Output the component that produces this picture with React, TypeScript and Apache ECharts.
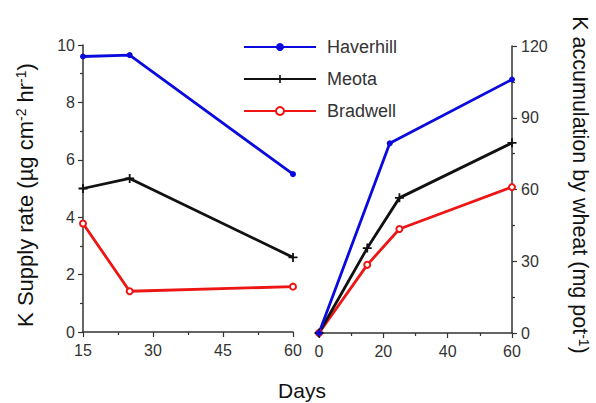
import React, { useEffect, useRef } from "react";
import * as echarts from "echarts";

// Left panel: K supply rate (µg cm-2 hr-1) vs days
const daysSupply = [15, 25, 60];
const supplyHaverhill = [9.6, 9.65, 5.5];
const supplyMeota = [5.0, 5.35, 2.6];
const supplyBradwell = [3.78, 1.42, 1.58];

// Right panel: K accumulation by wheat (mg pot-1) vs days
const daysAccHaverhill = [0, 22, 60];
const accHaverhill = [0, 79.3, 106];
const daysAcc = [0, 15, 25, 60];
const accMeota = [0, 35.5, 56.5, 79.5];
const accBradwell = [0, 28.5, 43.5, 61];

const leftXTicks = { min: 15, max: 60, interval: 15 };
const leftYTicks = { min: 0, max: 10, interval: 2 };
const rightXTicks = { min: 0, max: 60, interval: 20 };
const rightYTicks = { min: 0, max: 120, interval: 30 };

const seriesNames = ["Haverhill", "Meota", "Bradwell"];

const FONT = "'Liberation Sans', Arial, sans-serif";
const BLUE = "#0a0ade";
const BLACK = "#111111";
const RED = "#ee1515";
const PLUS = "path://M4,0H6V10H4ZM0,4H10V6H0Z";

const pairs = (xs: number[], ys: number[]) => xs.map((x, i) => [x, ys[i]]);

const axisCommon = {
  axisLine: { show: true, onZero: false, lineStyle: { color: "#333", width: 1.5 } },
  axisTick: { show: true, inside: false, length: 5, lineStyle: { color: "#333", width: 1.2 } },
  minorTick: { show: true, splitNumber: 2, length: 3, lineStyle: { color: "#333", width: 1.2 } },
  splitLine: { show: false },
  axisLabel: { color: "#333", fontSize: 16, fontFamily: FONT },
};

export default function App() {
  const ref = useRef<HTMLDivElement>(null);
  useEffect(() => {
    if (!ref.current) return;
    const chart = echarts.init(ref.current, undefined, { renderer: "svg" });
    const lineSeries = (
      name: string,
      color: string,
      xIdx: number,
      data: number[][],
      symbol: string,
      size: number | number[]
    ) => ({
      name,
      type: "line",
      xAxisIndex: xIdx,
      yAxisIndex: xIdx,
      data,
      symbol,
      symbolSize: size,
      showAllSymbol: true,
      lineStyle: { color, width: 2.8 },
      itemStyle: { color, borderColor: color, borderWidth: symbol === "emptyCircle" ? 1.2 : 0 },
      emphasis: { disabled: true },
    });
    chart.setOption({
      animation: false,
      backgroundColor: "#ffffff",
      textStyle: { fontFamily: FONT },
      grid: [
        { left: 83, top: 45, width: 210, height: 287 },
        { left: 319, top: 46, width: 193, height: 287 },
      ],
      xAxis: [
        { type: "value", gridIndex: 0, ...leftXTicks, ...axisCommon, axisLabel: { ...axisCommon.axisLabel, margin: 10 } },
        { type: "value", gridIndex: 1, ...rightXTicks, ...axisCommon, axisLabel: { ...axisCommon.axisLabel, margin: 10 } },
      ],
      yAxis: [
        { type: "value", gridIndex: 0, position: "left", ...leftYTicks, ...axisCommon, axisLabel: { ...axisCommon.axisLabel, margin: 8 } },
        { type: "value", gridIndex: 1, position: "right", ...rightYTicks, ...axisCommon, axisLabel: { ...axisCommon.axisLabel, margin: 9 } },
      ],
      legend: {
        data: seriesNames,
        orient: "vertical",
        left: 243,
        top: 38,
        padding: 0,
        itemWidth: 72,
        itemHeight: 10,
        itemGap: 14,
        selectedMode: false,
        textStyle: { color: "#333", fontSize: 18, fontFamily: FONT, padding: [0, 0, 0, 6] },
      },
      graphic: [
        {
          type: "text",
          x: 25,
          y: 195,
          rotation: Math.PI / 2,
          style: {
            text: "K Supply rate (µg cm{sup|-2} hr{sup|-1})",
            fill: BLACK,
            font: `22px ${FONT}`,
            align: "center",
            verticalAlign: "middle",
            rich: {
              sup: { fontSize: 14, verticalAlign: "top", fill: BLACK, fontFamily: FONT },
            },
          },
        },
        {
          type: "text",
          x: 580,
          y: 185,
          rotation: -Math.PI / 2,
          style: {
            text: "K accumulation by wheat (mg pot{sup|-1})",
            fill: BLACK,
            font: `21.5px ${FONT}`,
            align: "center",
            verticalAlign: "middle",
            rich: {
              sup: { fontSize: 14, verticalAlign: "top", fill: BLACK, fontFamily: FONT },
            },
          },
        },
        {
          type: "text",
          x: 302,
          y: 390,
          style: {
            text: "Days",
            fill: BLACK,
            font: `21px ${FONT}`,
            align: "center",
            verticalAlign: "middle",
          },
        },
      ],
      series: [
        lineSeries("Bradwell", RED, 0, pairs(daysSupply, supplyBradwell), "emptyCircle", 6),
        lineSeries("Meota", BLACK, 0, pairs(daysSupply, supplyMeota), PLUS, 9),
        lineSeries("Haverhill", BLUE, 0, pairs(daysSupply, supplyHaverhill), "circle", 6),
        lineSeries("Bradwell", RED, 1, pairs(daysAcc, accBradwell), "emptyCircle", 6),
        lineSeries("Meota", BLACK, 1, pairs(daysAcc, accMeota), PLUS, 9),
        lineSeries("Haverhill", BLUE, 1, pairs(daysAccHaverhill, accHaverhill), "circle", 6),
      ],
    });
    return () => chart.dispose();
  }, []);
  return <div ref={ref} style={{ width: 596, height: 403, position: "absolute", left: 0, top: 0 }} />;
}
